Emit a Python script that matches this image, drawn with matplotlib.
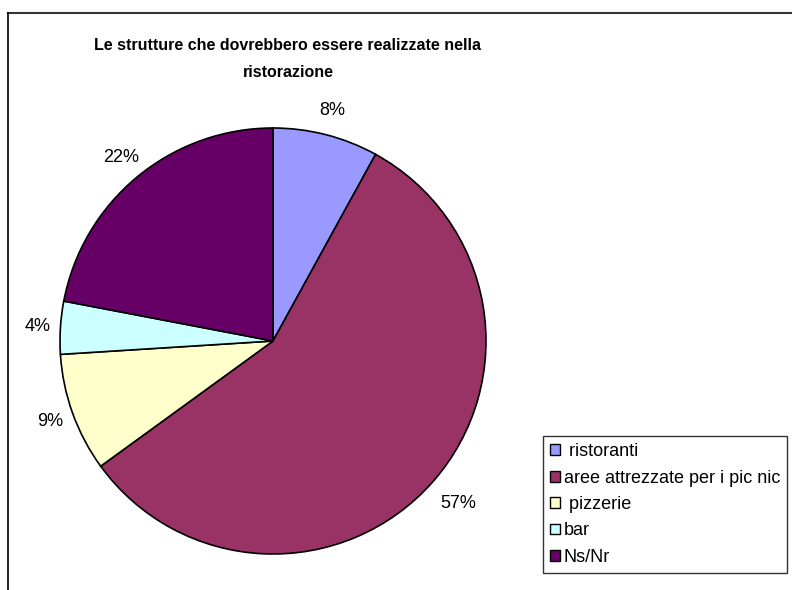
import numpy as np
import matplotlib.pyplot as plt
from matplotlib.patches import Patch
from matplotlib.lines import Line2D

plt.rcParams['font.family'] = ['Liberation Sans', 'DejaVu Sans']

labels = ["ristoranti", "aree attrezzate per i pic nic", "pizzerie", "bar", "Ns/Nr"]
legend_labels = [" ristoranti", "aree attrezzate per i pic nic", " pizzerie", "bar", "Ns/Nr"]
values = [8, 57, 9, 4, 22]
colors = ["#9999FF", "#993366", "#FFFFCC", "#CCFFFF", "#660066"]

W, H = 792, 590
fig = plt.figure(figsize=(W / 100, H / 100), dpi=100)

# chart frame (top and left edges visible)
fig.add_artist(Line2D([8 / W, 1], [1 - 13 / H, 1 - 13 / H], color="#333333", lw=1.5))
fig.add_artist(Line2D([8 / W, 8 / W], [0, 1 - 13 / H], color="black", lw=1.2))

cx, cy, r = 273, 341, 213
ax = fig.add_axes([(cx - r) / W, 1 - (cy + r) / H, 2 * r / W, 2 * r / H])
wedges, texts = ax.pie(values, colors=colors, startangle=90, counterclock=False,
                       wedgeprops=dict(edgecolor="black", linewidth=1.2))
ax.set_xlim(-1, 1)
ax.set_ylim(-1, 1)
ax.set_aspect("equal")
ax.axis("off")

# percent labels just outside the rim, text box kept clear of the pie
renderer = fig.canvas.get_renderer()
for w, v in zip(wedges, values):
    t = ax.text(0, 0, f"{v}%", ha="center", va="center", fontsize=13)
    bb = t.get_window_extent(renderer)
    ang = np.deg2rad((w.theta1 + w.theta2) / 2)
    dx, dy = np.cos(ang), np.sin(ang)
    gap = 16 if dx > 0 else 9
    d = 1 + (gap + abs(dx) * bb.width / 2 + abs(dy) * bb.height * 0.35) / r
    t.set_position((d * dx, d * dy))

fig.text(288 / W, 1 - 59 / H, "Le strutture che dovrebbero essere realizzate nella\nristorazione",
         ha="center", va="center", fontsize=11.5, fontweight="bold", linespacing=2.0)

handles = [Patch(facecolor=c, edgecolor="black", linewidth=1) for c in colors]
leg = fig.legend(handles, legend_labels, loc="upper left",
                 bbox_to_anchor=(543 / W, 1 - 436 / H), fontsize=13,
                 frameon=True, fancybox=False, edgecolor="black",
                 handlelength=0.55, handleheight=0.55, handletextpad=0.2,
                 labelspacing=0.52, borderpad=0.4, borderaxespad=0)
leg.get_frame().set_linewidth(1)

fig.savefig("out.png", dpi=100)
